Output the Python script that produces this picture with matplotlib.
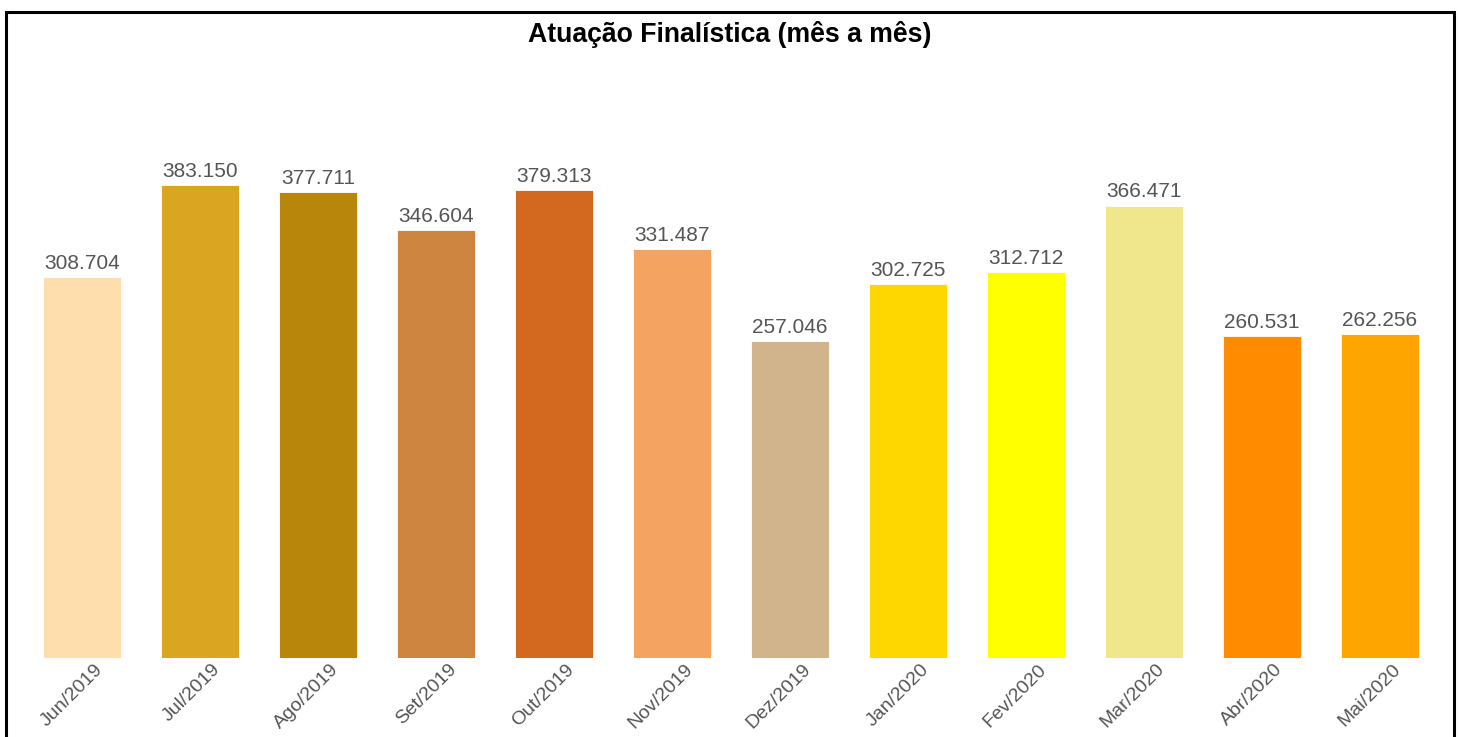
import matplotlib
matplotlib.use('Agg')
import matplotlib.pyplot as plt
from matplotlib.patches import Rectangle
from matplotlib import transforms

plt.rcParams['font.family'] = ['Liberation Sans', 'DejaVu Sans']

months = ['Jun/2019', 'Jul/2019', 'Ago/2019', 'Set/2019', 'Out/2019', 'Nov/2019',
          'Dez/2019', 'Jan/2020', 'Fev/2020', 'Mar/2020', 'Abr/2020', 'Mai/2020']
values = [308704, 383150, 377711, 346604, 379313, 331487,
          257046, 302725, 312712, 366471, 260531, 262256]
colors = ['navajowhite', 'goldenrod', 'darkgoldenrod', 'peru', 'chocolate', 'sandybrown',
          'tan', 'gold', 'yellow', 'khaki', 'darkorange', 'orange']

W, H = 1460, 737
fig = plt.figure(figsize=(W / 100, H / 100), dpi=100)
fig.patch.set_facecolor('white')

# axes spans the full width, baseline at pixel row 658
ax = fig.add_axes([0, (H - 658) / H, 1, 658 / H])
x = list(range(len(months)))
ax.bar(x, values, width=0.661, color=colors, edgecolor='white', linewidth=0.6)
ax.set_xlim(-82 / 118, 11 + (W - 1380) / 118)
ax.set_ylim(0, 533000)

for xi, v in zip(x, values):
    txt = '{:,}'.format(v).replace(',', '.')
    ax.annotate(txt, (xi, v), xytext=(0, 3), textcoords='offset points',
                ha='center', va='bottom', fontsize=15, color='#555555')

ax.set_xticks(x)
ax.set_xticklabels(months, rotation=45, ha='right', va='top',
                   rotation_mode='anchor', fontsize=14, color='#555555')
ax.tick_params(axis='x', length=0, pad=2)
shift = transforms.ScaledTranslation(12 / 100, 0, fig.dpi_scale_trans)
for lbl in ax.get_xticklabels():
    lbl.set_transform(lbl.get_transform() + shift)
ax.set_yticks([])
for s in ax.spines.values():
    s.set_visible(False)
ax.patch.set_alpha(0)

fig.text(730 / W, 1 - 34 / H, 'Atuação Finalística (mês a mês)', ha='center', va='center',
         fontsize=19.2, fontweight='bold', color='black')

border = Rectangle((5.5 / W, -0.1), (1453.5 - 5.5) / W, 1.1 - 11.5 / H,
                   transform=fig.transFigure, fill=False, edgecolor='black', linewidth=2.2)
fig.patches.append(border)

fig.savefig('out.png', dpi=100)
